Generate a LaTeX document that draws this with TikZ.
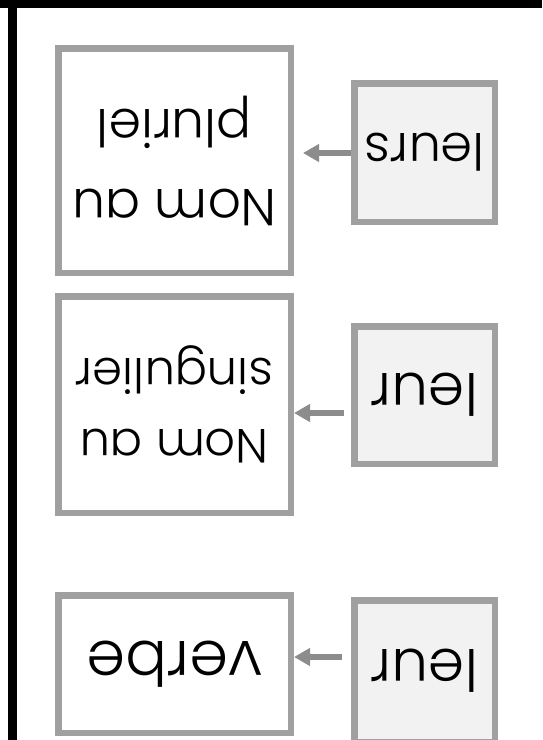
\documentclass[tikz,border=0pt]{standalone}
\usepackage{fontspec}
\setmainfont{Poppins Light}
\usetikzlibrary{arrows.meta}
\definecolor{bordergray}{HTML}{A0A0A0}
\definecolor{fillgray}{HTML}{F2F2F2}
\definecolor{arrowgray}{HTML}{8C8C8C}
\begin{document}
\begin{tikzpicture}[x=1pt,y=-1pt,
  bigbox/.style={draw=bordergray,line width=6.5pt,fill=white,minimum width=232.5pt,
    align=center,inner sep=0pt,rotate=180},
  smallbox/.style={draw=bordergray,line width=6.5pt,fill=fillgray,minimum width=140.5pt,
    inner sep=0pt,rotate=180},
  arr/.style={draw=arrowgray,line width=5.5pt,-{Triangle[length=16pt,width=17pt]}}]
\useasboundingbox (0,0) rectangle (542,740);
\clip (0,0) rectangle (542,740);
\fill[white] (0,0) rectangle (542,740);
\fill[black] (0,0) rectangle (542,8);
\fill[black] (8,0) rectangle (17,740);
% large boxes (picture is upside down)
\node[bigbox, minimum height=224.5pt, font=\fontsize{52}{80}\selectfont] (b1) at (174.5,160.5) {Nom au\\pluriel};
\node[bigbox, minimum height=216.5pt, font=\fontsize{48}{71}\selectfont] (b2) at (174.5,404.5) {Nom au\\singulier};
\node[bigbox, minimum height=137.5pt, font=\fontsize{62}{70}\selectfont] (b3) at (174.5,664) {verbe};
% small boxes
\node[smallbox, minimum height=138.5pt, font=\fontsize{51}{60}\selectfont] (s1) at (424.5,152.5) {leurs};
\node[smallbox, minimum height=137.5pt, font=\fontsize{58}{60}\selectfont] (s2) at (424.5,395) {leur};
\node[smallbox, minimum height=141.5pt, font=\fontsize{58}{60}\selectfont] (s3) at (424.5,671) {leur};
% arrows (rotated nodes: .east is the physical left side, .west the physical right side)
\coordinate (a1) at (0,153);
\coordinate (a2) at (0,413);
\coordinate (a3) at (0,657);
\draw[arr, shorten >=9pt] (s1.east |- a1) -- (b1.west |- a1);
\draw[arr, shorten <=7pt] (s2.east |- a2) -- (b2.west |- a2);
\draw[arr, shorten <=9pt] (s3.east |- a3) -- (b3.west |- a3);
\end{tikzpicture}
\end{document}
